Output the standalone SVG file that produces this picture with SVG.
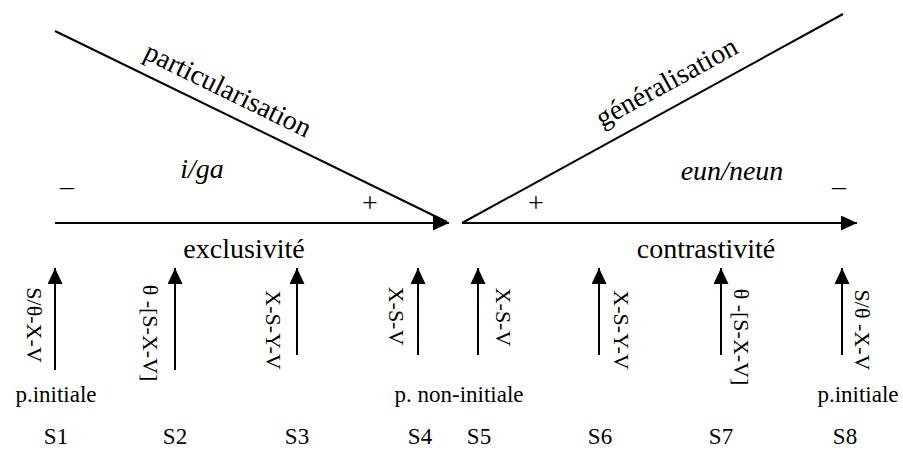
<svg xmlns="http://www.w3.org/2000/svg" width="903" height="450" viewBox="0 0 903 450" font-family="'Liberation Serif', serif">
<style>
text { font-family: "Liberation Serif", serif; fill: #000; }
.big { font-size: 28px; }
.it { font-style: italic; }
.sm { font-size: 23px; }
.rot { font-size: 22px; }
.ln { stroke: #000; stroke-width: 2; fill: none; }
</style>
<defs>
<marker id="ah" markerUnits="userSpaceOnUse" markerWidth="17" markerHeight="16" refX="16" refY="7.5" orient="auto">
<path d="M0,0 L16,7.5 L0,15 z" fill="#000"/>
</marker>
</defs>
<g id="connectors">
<line class="ln" x1="55" y1="31" x2="447" y2="222"/>
<line class="ln" x1="55" y1="223" x2="449" y2="223" marker-end="url(#ah)"/>
<line class="ln" x1="462" y1="223" x2="843" y2="14"/>
<line class="ln" x1="462" y1="223" x2="857" y2="223" marker-end="url(#ah)"/>
<line class="ln" x1="55" y1="370" x2="55" y2="268" marker-end="url(#ah)"/>
<line class="ln" x1="175" y1="370" x2="175" y2="268" marker-end="url(#ah)"/>
<line class="ln" x1="297" y1="355" x2="297" y2="268" marker-end="url(#ah)"/>
<line class="ln" x1="418" y1="355" x2="418" y2="268" marker-end="url(#ah)"/>
<line class="ln" x1="478" y1="355" x2="478" y2="268" marker-end="url(#ah)"/>
<line class="ln" x1="599" y1="355" x2="599" y2="268" marker-end="url(#ah)"/>
<line class="ln" x1="721" y1="355" x2="721" y2="268" marker-end="url(#ah)"/>
<line class="ln" x1="842" y1="355" x2="842" y2="268" marker-end="url(#ah)"/>
</g>
<g id="left-axis">
<text class="big" text-anchor="middle" transform="translate(224,98) rotate(26)">particularisation</text>
<text class="big it" x="202" y="178" text-anchor="middle">i/ga</text>
<text class="big" x="60" y="195">–</text>
<text class="big" x="370" y="212" text-anchor="middle">+</text>
<text class="big" x="244" y="258" text-anchor="middle">exclusivité</text>
</g>
<g id="right-axis">
<text class="big" text-anchor="middle" transform="translate(671,90) rotate(-28.7)">généralisation</text>
<text class="big it" x="732" y="180" text-anchor="middle">eun/neun</text>
<text class="big" x="832" y="195">–</text>
<text class="big" x="536" y="212" text-anchor="middle">+</text>
<text class="big" x="706" y="258" text-anchor="middle">contrastivité</text>
</g>
<g id="structures">
<text class="rot" text-anchor="middle" transform="translate(27,325) rotate(90)">S/θ-X-V</text>
<text class="rot" text-anchor="middle" transform="translate(143,333) rotate(90)">θ -[S-X-V]</text>
<text class="rot" text-anchor="middle" transform="translate(266,330) rotate(90)">X-S-Y-V</text>
<text class="rot" text-anchor="middle" transform="translate(389,316) rotate(90)">X-S-V</text>
<text class="rot" text-anchor="middle" transform="translate(496,317) rotate(90)">X-S-V</text>
<text class="rot" text-anchor="middle" transform="translate(614,330) rotate(90)">X-S-Y-V</text>
<text class="rot" text-anchor="middle" transform="translate(734,337) rotate(90)">θ -[S-X-V]</text>
<text class="rot" text-anchor="middle" transform="translate(855,330) rotate(90)">S/θ -X-V</text>
</g>
<g id="positions">
<text class="sm" x="56" y="402" text-anchor="middle">p.initiale</text>
<text class="sm" x="459" y="402" text-anchor="middle">p. non-initiale</text>
<text class="sm" x="858" y="402" text-anchor="middle">p.initiale</text>
</g>
<g id="sentences">
<text class="sm" x="56" y="444" text-anchor="middle">S1</text>
<text class="sm" x="175" y="444" text-anchor="middle">S2</text>
<text class="sm" x="297" y="444" text-anchor="middle">S3</text>
<text class="sm" x="420" y="444" text-anchor="middle">S4</text>
<text class="sm" x="479" y="444" text-anchor="middle">S5</text>
<text class="sm" x="600" y="444" text-anchor="middle">S6</text>
<text class="sm" x="721" y="444" text-anchor="middle">S7</text>
<text class="sm" x="845" y="444" text-anchor="middle">S8</text>
</g>
</svg>
